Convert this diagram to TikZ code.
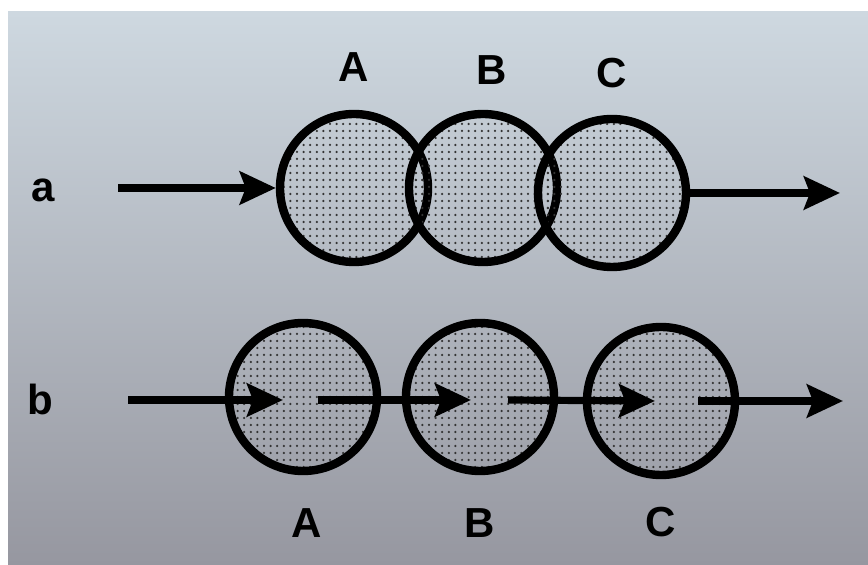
\documentclass[tikz,border=0pt]{standalone}
\usepackage{fontspec}
\setsansfont{Liberation Sans}
\usetikzlibrary{arrows.meta,patterns,calc}

\definecolor{paper}{RGB}{206,216,224}
\definecolor{papermid}{RGB}{184,193,201}
\definecolor{paperlow}{RGB}{150,151,160}

% coarse stipple for the discs
\pgfdeclarepatternformonly{stipple}{\pgfqpoint{-1pt}{-1pt}}{\pgfqpoint{1pt}{1pt}}{\pgfqpoint{3.3pt}{3.5pt}}%
{\pgfpathcircle{\pgfqpoint{0pt}{0pt}}{.62pt}\pgfusepath{fill}}

\begin{document}
\begin{tikzpicture}[x=0.5pt, y=-0.5pt,
disc/.style={circle, draw=black, line width=4.2pt, minimum size=74pt, pattern=stipple, pattern color=black!80},
lbl/.style={font=\sffamily\bfseries\fontsize{21}{24}\selectfont, inner sep=0pt},
flow/.style={line width=3.6pt, -{Stealth[length=18pt, width=16.5pt, inset=3pt]}},
node distance=64.5pt
]
%Paper
\useasboundingbox (0,0) rectangle (868,565);
\fill[white] (0,0) rectangle (868,565);
\shade[top color=paper, middle color=papermid, bottom color=paperlow] (8,12) rectangle (868,565);
%Nodes
\node[disc]      (aA)     at (354,188)                         {};
\node[disc]      (aB)     [right of =aA]                       {};
\node[disc]      (aC)     [right of =aB, yshift=-2.5pt]        {};
\node[disc]      (bA)     [below of =aA, xshift=-25.5pt, yshift=-40pt] {};
\node[disc]      (bB)     [right of =bA, xshift=24pt]          {};
\node[disc]      (bC)     [right of =bB, xshift=26pt, yshift=-2pt] {};
\node[lbl]       (tA)     [above of =aA, yshift=-4pt]          {A};
\node[lbl]       (tB)     [above of =aB, xshift=4.5pt, yshift=-5.5pt] {B};
\node[lbl]       (tC)     [above of =aC, yshift=-4.5pt]        {C};
\node[lbl]       (uA)     [below of =bA, xshift=2pt, yshift=1.5pt] {A};
\node[lbl]       (uB)     [below of =bB, yshift=1.5pt]         {B};
\node[lbl]       (uC)     [below of =bC, yshift=4pt]           {C};
\node[lbl]       (la)     [left of =aA, xshift=-91pt, yshift=-1pt] {a};
\node[lbl]       (lb)     [left of =bA, xshift=-67pt, yshift=-1pt] {b};
\coordinate      (ain)    at (118,188);
\coordinate      (aout)   at (840,193);
\coordinate      (bin)    at (128,400);
\coordinate      (bout)   at (843,401);
%Lines
\draw[flow] (ain) -- (aA);
\draw[flow] (aC) -- (aout);
\draw[flow] (bin) -- ($(bA)+(-20,3)$);
\draw[flow] ($(bA)+(15,3)$) -- ($(bB)+(-9,3)$);
\draw[flow] ($(bB)+(28,3)$) -- ($(bC)+(-6,0)$);
\draw[flow] ($(bC)+(37,0)$) -- (bout);
\end{tikzpicture}
\end{document}
